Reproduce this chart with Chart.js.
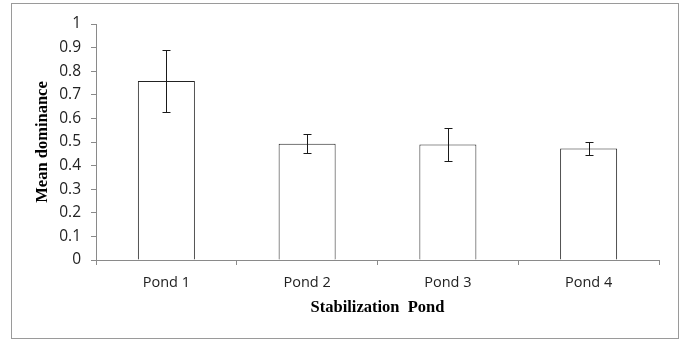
<!DOCTYPE html>
<html>
<head>
<meta charset="utf-8">
<script src="https://cdn.jsdelivr.net/npm/chart.js@4/dist/chart.umd.min.js"></script>
<style>
  html, body { margin: 0; padding: 0; background: #fff; }
  canvas { display: block; }
</style>
</head>
<body>
<canvas id="c" width="682" height="340"></canvas>
<script>
const categories = ['Pond 1', 'Pond 2', 'Pond 3', 'Pond 4'];
const meanDominance = [0.758, 0.493, 0.489, 0.472];
const errorValues = [0.131, 0.041, 0.069, 0.029];
const yTickLabels = ['0', '0.1', '0.2', '0.3', '0.4', '0.5', '0.6', '0.7', '0.8', '0.9', '1'];
const xTitle = 'Stabilization  Pond';
const yTitle = 'Mean dominance';

const frame = {
  id: 'frame',
  beforeDraw(chart) {
    const ctx = chart.ctx;
    ctx.save();
    ctx.fillStyle = '#fff';
    ctx.fillRect(0, 0, chart.width, chart.height);
    ctx.strokeStyle = '#9a9a9a';
    ctx.lineWidth = 1;
    ctx.strokeRect(11.5, 3.5, 667, 335);
    ctx.restore();
  }
};

const errorBars = {
  id: 'errorBars',
  afterDatasetsDraw(chart) {
    const ctx = chart.ctx;
    const y = chart.scales.y;
    const meta = chart.getDatasetMeta(0);
    ctx.save();
    ctx.strokeStyle = '#1a1a1a';
    ctx.lineWidth = 1;
    meta.data.forEach((bar, i) => {
      const x = Math.round(bar.x) + 0.5;
      const top = Math.round(y.getPixelForValue(meanDominance[i] + errorValues[i])) + 0.5;
      const bot = Math.round(y.getPixelForValue(meanDominance[i] - errorValues[i])) + 0.5;
      ctx.beginPath();
      ctx.moveTo(x, top); ctx.lineTo(x, bot);
      ctx.moveTo(x - 4, top); ctx.lineTo(x + 4, top);
      ctx.moveTo(x - 4, bot); ctx.lineTo(x + 4, bot);
      ctx.stroke();
    });
    ctx.restore();
  }
};

new Chart(document.getElementById('c'), {
  type: 'bar',
  data: {
    labels: categories,
    datasets: [{
      data: meanDominance,
      backgroundColor: '#ffffff',
      borderColor: '#222222',
      borderWidth: 1,
      barPercentage: 0.405,
      categoryPercentage: 1.0
    }]
  },
  options: {
    responsive: false,
    animation: false,
    devicePixelRatio: 1,
    layout: { padding: { left: 11, right: 23, top: 24, bottom: 16 } },
    plugins: { legend: { display: false }, tooltip: { enabled: false } },
    scales: {
      x: {
        afterFit(s) { s.height = 64; },
        grid: { offset: true, drawOnChartArea: false, tickLength: 5, color: '#8a8a8a' },
        border: { color: '#8a8a8a' },
        ticks: { padding: 9, color: '#222', font: { family: 'Open Sans', size: 14.5 } },
        title: {
          display: true, text: xTitle, color: '#000',
          font: { family: 'Liberation Serif', size: 16.5, weight: 'bold' },
          padding: { top: 0, bottom: 6 }
        }
      },
      y: {
        min: 0, max: 1,
        afterFit(s) { s.width = 85; },
        grid: { drawOnChartArea: false, tickLength: 5, color: '#8a8a8a' },
        border: { color: '#8a8a8a' },
        ticks: {
          stepSize: 0.1, padding: 10, color: '#222',
          font: { family: 'Open Sans', size: 15.5 },
          callback: (v, i) => yTickLabels[i]
        },
        title: {
          display: true, text: yTitle, color: '#000',
          font: { family: 'Liberation Serif', size: 16.5, weight: 'bold' },
          padding: { top: 22, bottom: 0 }
        }
      }
    }
  },
  plugins: [frame, errorBars]
});
</script>
</body>
</html>
